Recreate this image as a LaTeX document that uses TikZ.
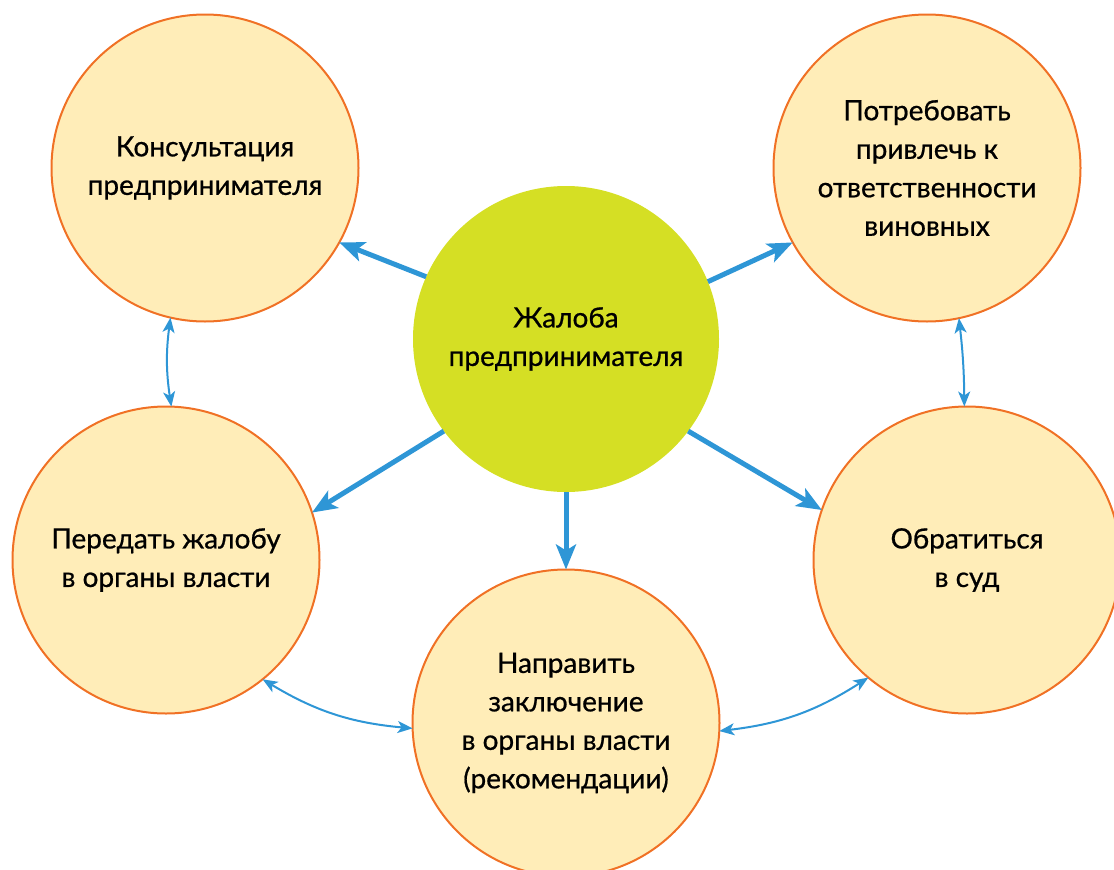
\documentclass[tikz,border=0pt]{standalone}
\usepackage{fontspec}
\setmainfont{Lato}[UprightFeatures={FakeBold=0.7}]
\usetikzlibrary{arrows.meta}
\definecolor{arrowblue}{HTML}{2E96D6}
\definecolor{ringorange}{HTML}{F07125}
\definecolor{paleyellow}{HTML}{FFEDB8}
\definecolor{limegreen}{HTML}{D5DF24}
\tikzset{
  outer/.style={circle, minimum size=307pt, inner sep=0pt, outer sep=0pt,
    draw=ringorange, line width=2pt, fill=paleyellow, align=center,
    font=\fontsize{28}{38.5}\selectfont},
  core/.style={circle, minimum size=306pt, inner sep=0pt, outer sep=0pt,
    fill=limegreen, align=center, font=\fontsize{28}{38.5}\selectfont},
  bigarrow/.style={draw=arrowblue, line width=5pt,
    -{Stealth[length=25pt, width=20pt, inset=6pt]}},
  thinarrow/.style={draw=arrowblue, line width=2pt,
    {Stealth[length=15pt, width=12pt, inset=4pt]}-{Stealth[length=15pt, width=12pt, inset=4pt]}}
}
\begin{document}
\begin{tikzpicture}[x=1pt, y=-1pt]
\useasboundingbox (0,0) rectangle (1114,870);
\clip (0,0) rectangle (1114,870);
\node[outer] (tl) at (205,168) {Консультация\\предпринимателя};
\node[outer] (tr) at (927,168) {Потребовать\\привлечь к\\ответственности\\виновных};
\node[core] (c) at (566,339) {Жалоба\\предпринимателя};
\node[outer] (lm) at (166,560) {Передать жалобу\\в органы власти};
\node[outer] (rm) at (967,560) {Обратиться\\в суд};
\node[outer] (b) at (566,723) {Направить\\заключение\\в органы власти\\(рекомендации)};
\draw[bigarrow] (c.156.9) -- (tl.331.3);
\draw[bigarrow] (c.22.8) -- (tr.209.2);
\draw[bigarrow] (c.217.2) -- (lm.18.4);
\draw[bigarrow] (c.323.5) -- (rm.161.9);
\draw[bigarrow] (c.270) -- (b.90);
\draw[thinarrow] (tl.257.7) to[bend right=8] (lm.88.9);
\draw[thinarrow] (tr.282.3) to[bend left=3] (rm.91.5);
\draw[thinarrow] (lm.309.6) to[bend right=13] (b.182.2);
\draw[thinarrow] (b.357.8) to[bend right=13] (rm.230.7);
\end{tikzpicture}
\end{document}
